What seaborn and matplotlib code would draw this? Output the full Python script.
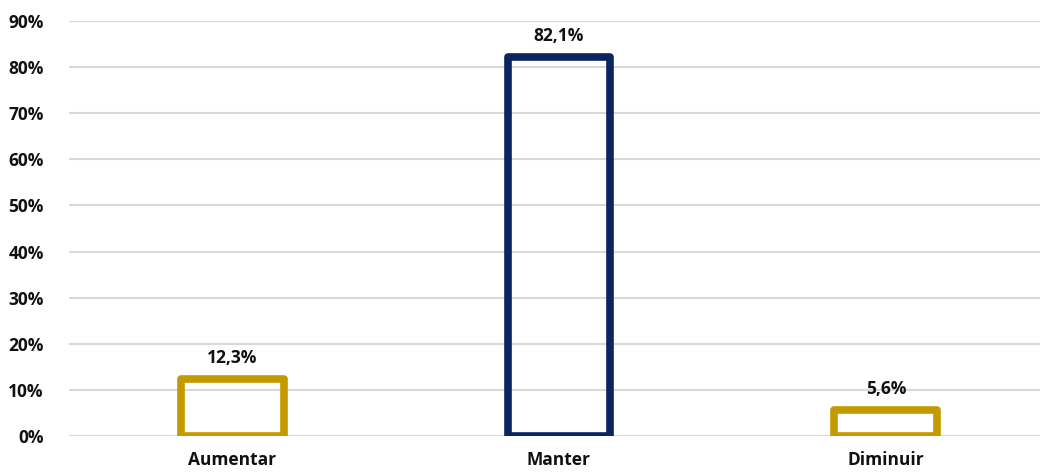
import matplotlib
matplotlib.use("Agg")
import matplotlib.pyplot as plt
import seaborn as sns
import pandas as pd

categorias = ["Aumentar", "Manter", "Diminuir"]
valores = [12.3, 82.1, 5.6]
rotulos = ["12,3%", "82,1%", "5,6%"]
cores = ["#C49A00", "#0B2561", "#C49A00"]

sns.set_style("white")
plt.rcParams['font.family'] = ['Open Sans', 'DejaVu Sans']

df = pd.DataFrame({"cat": categorias, "val": valores})

fig = plt.figure(figsize=(10.4, 4.73), dpi=100)
ax = fig.add_axes([0.066, 0.078, 0.943, 0.878])

sns.barplot(data=df, x="cat", y="val", hue="cat", palette=cores, fill=False,
            width=0.315, linewidth=5.5, legend=False, ax=ax, zorder=3)
for p in ax.patches:
    p.set_joinstyle("round")

for p, txt in zip(ax.patches, rotulos):
    ax.annotate(txt, (p.get_x() + p.get_width() / 2, p.get_height()),
                xytext=(0, 9), textcoords="offset points", ha="center", va="bottom",
                fontsize=12.5, fontweight="bold", color="#111111")

ax.set_ylim(0, 90)
ax.set_yticks(range(0, 91, 10))
ax.set_yticklabels([f"{v}%" for v in range(0, 91, 10)])
ax.set_xlim(-0.5, 2.5)
ax.yaxis.grid(True, color="#D9D9D9", linewidth=1.5)
ax.set_axisbelow(True)
for s in ax.spines.values():
    s.set_visible(False)
ax.tick_params(axis="both", length=0, labelsize=12.5)
ax.tick_params(axis="x", pad=11)
ax.tick_params(axis="y", pad=18)
for lbl in ax.get_xticklabels() + ax.get_yticklabels():
    lbl.set_fontweight("bold")
    lbl.set_color("#111111")
ax.set_xlabel("")
ax.set_ylabel("")

fig.savefig("out.png", dpi=100)
